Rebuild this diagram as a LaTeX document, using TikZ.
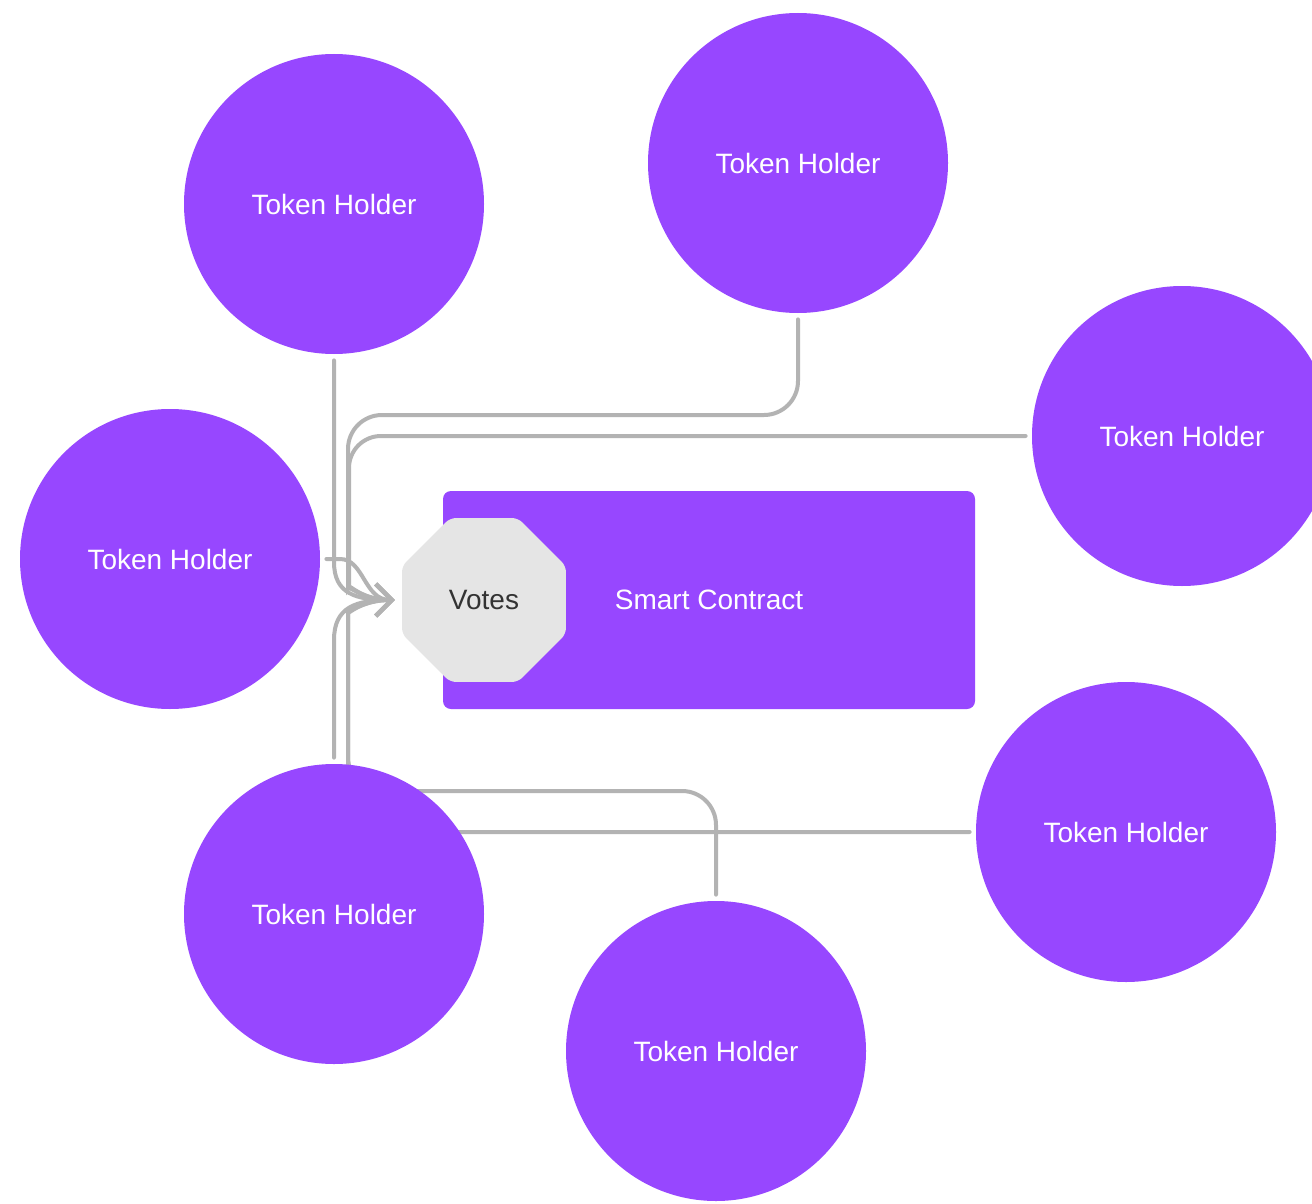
\documentclass[tikz,border=0pt]{standalone}
\usepackage{fontspec}
\setmainfont{Liberation Sans}
\usetikzlibrary{calc,shapes.geometric,arrows.meta,backgrounds}
\definecolor{holderfill}{HTML}{9747FF}
\definecolor{linkgray}{HTML}{B3B3B3}
\definecolor{votefill}{HTML}{E5E5E5}
\definecolor{votetext}{HTML}{333333}
\tikzset{
  holder/.style={circle, fill=holderfill, minimum size=150pt, inner sep=0pt,
    text=white, font=\fontsize{14}{17}\selectfont},
  contract/.style={rectangle, rounded corners=4pt, fill=holderfill,
    minimum width=266pt, minimum height=109pt, inner sep=0pt,
    text=white, font=\fontsize{14}{17}\selectfont},
  votesbox/.style={regular polygon, regular polygon sides=8, fill=votefill,
    minimum size=88.75pt, inner sep=0pt, rounded corners=3pt,
    text=votetext, font=\fontsize{14}{17}\selectfont},
  link/.style={draw=linkgray, line width=2pt, line cap=round},
  linkarrow/.style={link, -{Straight Barb[length=8pt,width=16pt]}}
}
\begin{document}
\begin{tikzpicture}[x=0.5pt,y=-0.5pt]
\useasboundingbox (0,0) rectangle (1312,1204);
\clip (0,0) rectangle (1312,1204);

% nodes
\node[holder] (tl) at (334,204) {Token Holder};
\node[holder] (top) at (798,163) {Token Holder};
\node[holder] (right) at (1182,436) {Token Holder};
\node[holder] (left) at (170,559) {Token Holder};
\node[holder] (bl) at (334,914) {Token Holder};
\node[holder] (bottom) at (716,1051) {Token Holder};
\node[holder] (br) at (1126,832) {Token Holder};

\node[contract] (sc) at (709,600) {Smart Contract};
\node[votesbox] (votes) at (484,600) {Votes};

\coordinate (tip) at ($(votes.west)+(-7,0)$);

% connectors behind the nodes
\begin{scope}[on background layer]
  \fill[white] (0,0) rectangle (1312,1204);
  \draw[linkarrow] ($(top.south)+(0,6)$) [rounded corners=17pt] |- (348,415)
    -- (348,555) [sharp corners]
    .. controls (348,584) and (362,600) .. (tip);
  \draw[linkarrow] ($(right.west)+(-6,0)$) [rounded corners=16pt] -- (349,436)
    -- (349,555) [sharp corners]
    .. controls (349,584) and (362,600) .. (tip);
  \draw[linkarrow] ($(left.east)+(6,0)$) -- (340,559)
    .. controls (364,559) and (364,600) .. (tip);
  \draw[linkarrow] ($(tl.south)+(0,6)$) -- (334,562)
    .. controls (334,594) and (356,600) .. (tip);
  \draw[linkarrow] ($(bl.north)+(0,-6)$) -- (334,640)
    .. controls (334,607) and (356,600) .. (tip);
  \draw[linkarrow] ($(bottom.north)+(0,-6)$) [rounded corners=17pt] |- (348,791)
    -- (348,645) [sharp corners]
    .. controls (348,614) and (362,600) .. (tip);
  \draw[linkarrow] ($(br.west)+(-6,0)$) [rounded corners=16pt] -- (348,832)
    -- (348,645) [sharp corners]
    .. controls (348,614) and (362,600) .. (tip);
\end{scope}
\end{tikzpicture}
\end{document}
